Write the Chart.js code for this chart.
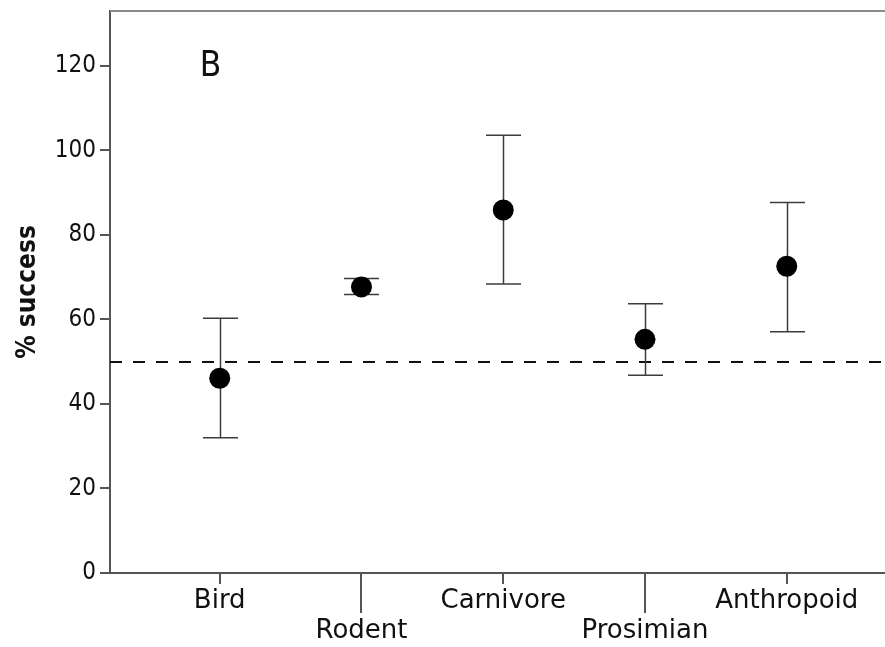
<!DOCTYPE html>
<html>
<head>
<meta charset="utf-8">
<script src="https://cdn.jsdelivr.net/npm/chart.js@4.4.0/dist/chart.umd.min.js"></script>
<style>
  html, body { margin: 0; padding: 0; background: #fff; }
  #wrap { width: 885px; height: 647px; }
</style>
</head>
<body>
<div id="wrap"><canvas id="chart" width="885" height="647"></canvas></div>
<script>
var categories = ['Bird', 'Rodent', 'Carnivore', 'Prosimian', 'Anthropoid'];
var means = [46.1, 67.7, 85.9, 55.3, 72.6];
var lower = [32.0, 65.9, 68.4, 46.8, 57.1];
var upper = [60.3, 69.7, 103.6, 63.7, 87.7];
var yTicks = [0, 20, 40, 60, 80, 100, 120];
var chanceLevel = 50;
var panelLabel = 'B';

var points = means.map(function (m, i) { return { x: i, y: m }; });

// dashed chance line, error bars, long/short x ticks, top frame, panel letter
var extras = {
    id: 'extras',
    beforeDatasetsDraw: function (chart) {
        var ctx = chart.ctx, xs = chart.scales.x, ys = chart.scales.y, area = chart.chartArea;
        ctx.save();

        ctx.strokeStyle = '#8a8a8a';
        ctx.lineWidth = 2;
        ctx.beginPath();
        ctx.moveTo(area.left, area.top);
        ctx.lineTo(area.right, area.top);
        ctx.stroke();

        var yc = Math.round(ys.getPixelForValue(chanceLevel));
        ctx.strokeStyle = '#111';
        ctx.lineWidth = 2;
        ctx.setLineDash([12, 11]);
        ctx.beginPath();
        ctx.moveTo(area.left, yc);
        ctx.lineTo(area.right, yc);
        ctx.stroke();
        ctx.setLineDash([]);

        ctx.strokeStyle = '#3c3c3c';
        ctx.lineWidth = 1.5;
        categories.forEach(function (c, i) {
            var px = Math.round(xs.getPixelForValue(i)) + 0.5;
            var top = ys.getPixelForValue(upper[i]);
            var bot = ys.getPixelForValue(lower[i]);
            ctx.beginPath();
            ctx.moveTo(px, top); ctx.lineTo(px, bot);
            ctx.moveTo(px - 17.5, top); ctx.lineTo(px + 17.5, top);
            ctx.moveTo(px - 17.5, bot); ctx.lineTo(px + 17.5, bot);
            ctx.stroke();
        });

        ctx.strokeStyle = '#555';
        ctx.lineWidth = 2;
        categories.forEach(function (c, i) {
            var px = Math.round(xs.getPixelForValue(i));
            ctx.beginPath();
            ctx.moveTo(px, area.bottom);
            ctx.lineTo(px, area.bottom + (i % 2 ? 40 : 11));
            ctx.stroke();
        });

        ctx.fillStyle = '#111';
        ctx.font = '35px "Liberation Sans Narrow", "DejaVu Sans Condensed", sans-serif';
        ctx.textAlign = 'center';
        ctx.textBaseline = 'alphabetic';
        ctx.fillText(panelLabel, xs.getPixelForValue(-0.065), ys.getPixelForValue(117.6));
        ctx.restore();
    }
};

var ctx = document.getElementById('chart').getContext('2d');
var chart = new Chart(ctx, {
    type: 'scatter',
    data: {
        datasets: [{
            label: '% success',
            data: points,
            backgroundColor: '#000',
            borderColor: '#000',
            borderWidth: 0,
            pointRadius: 10.5,
            pointHoverRadius: 10.5
        }]
    },
    options: {
        responsive: false,
        animation: false,
        layout: { autoPadding: false, padding: { top: 11, left: 0, right: 0, bottom: 0 } },
        plugins: {
            legend: { display: false },
            tooltip: { enabled: false }
        },
        scales: {
            x: {
                type: 'linear',
                min: -0.774,
                max: 4.693,
                afterBuildTicks: function (scale) {
                    scale.ticks = categories.map(function (c, i) { return { value: i }; });
                },
                afterFit: function (scale) {
                    scale.height = 74;
                    scale.paddingLeft = 0;
                    scale.paddingRight = 0;
                },
                grid: { display: false, drawTicks: false },
                border: { display: true, color: '#555', width: 2 },
                ticks: {
                    autoSkip: false,
                    maxRotation: 0,
                    padding: 13,
                    color: '#111',
                    font: { family: '"DejaVu Sans", sans-serif', size: 26, lineHeight: 1.15 },
                    callback: function (value, index) {
                        var name = categories[index];
                        return index % 2 ? ['', name] : name;
                    }
                }
            },
            y: {
                min: 0,
                max: 133,
                afterBuildTicks: function (scale) {
                    scale.ticks = yTicks.map(function (v) { return { value: v }; });
                },
                afterFit: function (scale) {
                    scale.width = 110;
                    scale.paddingTop = 0;
                    scale.paddingBottom = 0;
                },
                grid: { drawOnChartArea: false, drawTicks: true, tickLength: 10, color: '#555', lineWidth: 2 },
                border: { display: true, color: '#555', width: 2 },
                ticks: {
                    padding: 4,
                    color: '#111',
                    font: { family: '"DejaVu Sans Condensed", "DejaVu Sans", sans-serif', size: 24 }
                },
                title: {
                    display: true,
                    text: '% success',
                    color: '#111',
                    padding: { top: 13, bottom: 0 },
                    font: { family: '"DejaVu Sans Condensed", "DejaVu Sans", sans-serif', size: 26, weight: 'bold' }
                }
            }
        }
    },
    plugins: [extras]
});
</script>
</body>
</html>
